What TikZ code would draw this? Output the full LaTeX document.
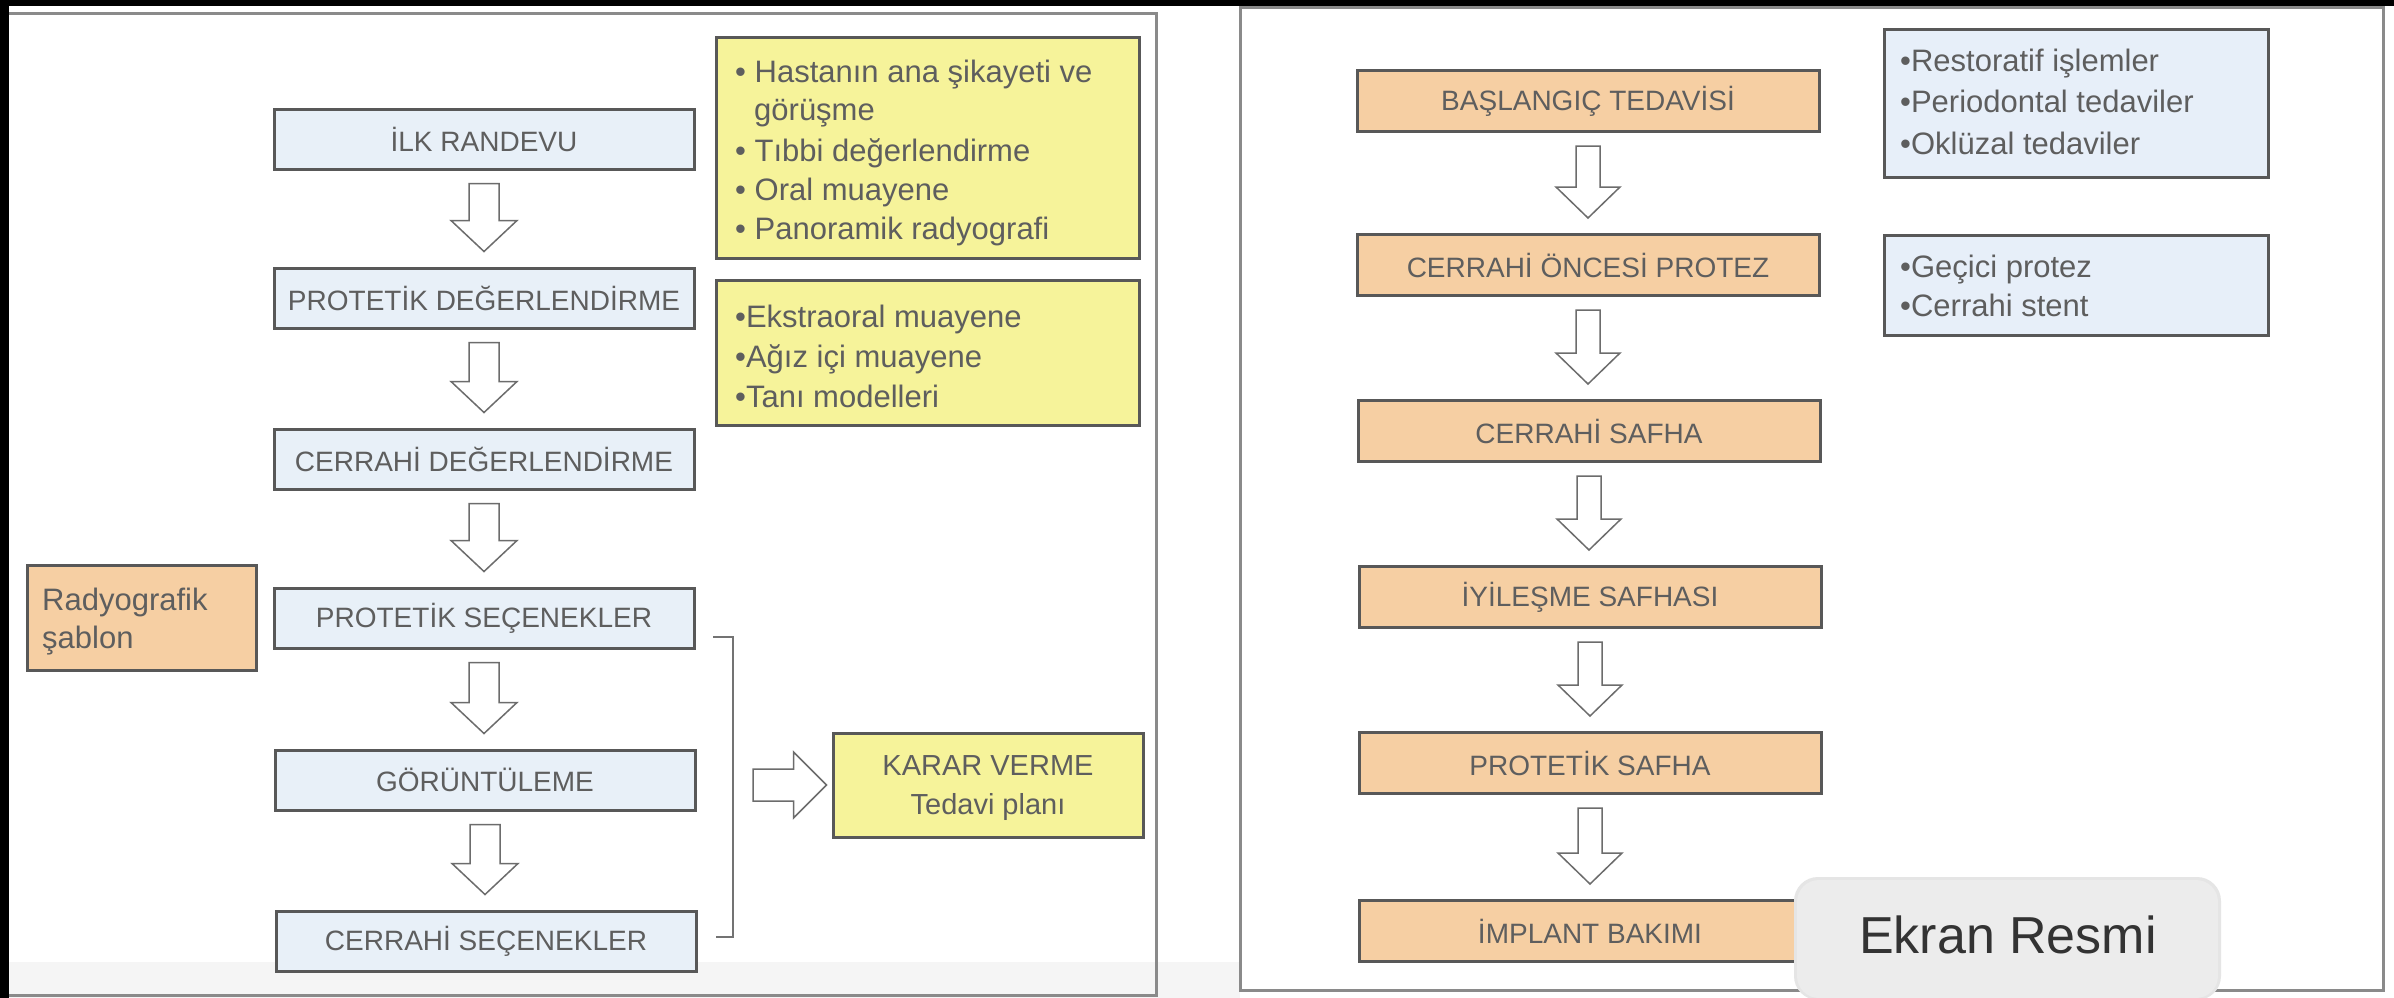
\documentclass[tikz,border=0pt]{standalone}
\usepackage{fontspec}
\setmainfont{Liberation Sans}
\usetikzlibrary{calc}
\definecolor{lblue}{HTML}{E8F0F8}
\definecolor{peach}{HTML}{F6CFA3}
\definecolor{lyellow}{HTML}{F6F39A}
\definecolor{iblue}{HTML}{E7EFF9}
\definecolor{bord}{HTML}{585858}
\definecolor{txt}{HTML}{5E5E5E}
\definecolor{panelgray}{HTML}{8A8A8A}
\definecolor{tipgray}{HTML}{ECECEC}
\newcommand{\vblockarrow}[4]{%
  \draw[blockarrow] let \p1=(#1.south), \p2=(#2.north) in
   (\x1-#3,\y1-13pt) -- (\x1+#3,\y1-13pt) -- (\x1+#3,\y2+46pt) -- (\x1+#4,\y2+46pt)
   -- (\x1,\y2+15pt) -- (\x1-#4,\y2+46pt) -- (\x1-#3,\y2+46pt) -- cycle;}
\begin{document}
\begin{tikzpicture}[x=1pt,y=-1pt,
  flowbox/.style={draw=bord, line width=3pt, inner sep=0pt, text=txt,
    font=\fontsize{28}{32}\selectfont},
  bluebox/.style={flowbox, fill=lblue, minimum width=420pt, minimum height=60pt},
  peachbox/.style={flowbox, fill=peach, minimum width=462pt, minimum height=61pt},
  notebox/.style={draw=bord, line width=3pt, inner sep=0pt},
  bul/.style={anchor=base west, inner sep=0pt, text=txt, font=\fontsize{31}{36}\selectfont},
  lbl/.style={anchor=base, inner sep=0pt, text=txt, font=\fontsize{29}{34}\selectfont},
  blockarrow/.style={draw=gray!85!black, line width=1.5pt, fill=white, line join=miter},
  panelline/.style={draw=panelgray, line width=3pt},
  bracketline/.style={draw=gray!90!black, line width=2pt},
]
\useasboundingbox (0,0) rectangle (2394,998);
\clip (0,0) rectangle (2394,998);
% background
\fill[white] (0,0) rectangle (2394,998);
\fill[black!4] (9,962) rectangle (1240,998);
\fill[black] (0,0) rectangle (2394,6);
\fill[black] (0,0) rectangle (9,998);
% panels
\draw[panelline] (9,14) -- (1156,14) -- (1156,995) -- (9,995);
\draw[panelline] (1240,8) rectangle (2383,990);

% ---------- left column ----------
\node[bluebox] (ilk)  at (484,139) {İLK RANDEVU};
\node[bluebox] (pdeg) at (484,298) {PROTETİK DEĞERLENDİRME};
\node[bluebox] (cdeg) at (484,459) {CERRAHİ DEĞERLENDİRME};
\node[bluebox] (psec) at (484,618) {PROTETİK SEÇENEKLER};
\node[bluebox] (goru) at (485,780) {GÖRÜNTÜLEME};
\node[bluebox] (csec) at (486,941) {CERRAHİ SEÇENEKLER};

\vblockarrow{ilk}{pdeg}{15pt}{33pt}
\vblockarrow{pdeg}{cdeg}{15pt}{33pt}
\vblockarrow{cdeg}{psec}{15pt}{33pt}
\vblockarrow{psec}{goru}{15pt}{33pt}
\vblockarrow{goru}{csec}{15pt}{33pt}

% yellow note 1
\node[notebox, fill=lyellow, minimum width=423pt, minimum height=220pt] (y1) at (927.5,148) {};
\node[bul] (y1a) at (735,82)  {•\ Hastanın ana şikayeti ve};
\node[bul] (y1b) at (754,121) {görüşme};
\node[bul] (y1c) at (735,161) {•\ Tıbbi değerlendirme};
\node[bul] (y1d) at (735,200) {•\ Oral muayene};
\node[bul] (y1e) at (735,239) {•\ Panoramik radyografi};
% yellow note 2
\node[notebox, fill=lyellow, minimum width=423pt, minimum height=145pt] (y2) at (927.5,352.5) {};
\node[bul] (y2a) at (735,327) {•Ekstraoral muayene};
\node[bul] (y2b) at (735,367) {•Ağız içi muayene};
\node[bul] (y2c) at (735,407) {•Tanı modelleri};

% radyografik sablon
\node[notebox, fill=peach, minimum width=229pt, minimum height=105pt] (rad) at (141.5,617.5) {};
\node[bul] (rada) at (42,610) {Radyografik};
\node[bul] (radb) at (42,648) {şablon};

% bracket and decision
\coordinate (brt) at (713,637);
\coordinate (brb) at (716,937);
\coordinate (brmid) at (733,786);
\draw[bracketline] (brt) -- (733,637) -- (733,937) -- (brb);
\node[notebox, fill=lyellow, minimum width=310pt, minimum height=104pt] (karar) at (988,785) {};
\node[lbl] (kara) at (988,775) {KARAR VERME};
\node[lbl] (karb) at (988,814) {Tedavi planı};
\draw[blockarrow] let \p1=(brmid), \p2=(karar.west) in
  (\x1+20pt,\y2+16pt) -- (\x2-38pt,\y2+16pt) -- (\x2-38pt,\y2+33pt) -- (\x2-5pt,\y2)
  -- (\x2-38pt,\y2-33pt) -- (\x2-38pt,\y2-16pt) -- (\x1+20pt,\y2-16pt) -- cycle;

% ---------- right column ----------
\node[peachbox] (bas)  at (1588,101) {BAŞLANGIÇ TEDAVİSİ};
\node[peachbox] (cop)  at (1588,265) {CERRAHİ ÖNCESİ PROTEZ};
\node[peachbox] (csaf) at (1589,431) {CERRAHİ SAFHA};
\node[peachbox] (iyi)  at (1590,597) {İYİLEŞME SAFHASI};
\node[peachbox] (psaf) at (1590,763) {PROTETİK SAFHA};
\node[peachbox] (imp)  at (1590,931) {İMPLANT BAKIMI};

\vblockarrow{bas}{cop}{12pt}{32pt}
\vblockarrow{cop}{csaf}{12pt}{32pt}
\vblockarrow{csaf}{iyi}{12pt}{32pt}
\vblockarrow{iyi}{psaf}{12pt}{32pt}
\vblockarrow{psaf}{imp}{12pt}{32pt}

% blue notes
\node[notebox, fill=iblue, minimum width=384pt, minimum height=147pt] (b1) at (2076,103.5) {};
\node[bul] (b1a) at (1900,72)  {•Restoratif işlemler};
\node[bul] (b1b) at (1900,113) {•Periodontal tedaviler};
\node[bul] (b1c) at (1900,154) {•Oklüzal tedaviler};
\node[notebox, fill=iblue, minimum width=384pt, minimum height=100pt] (b2) at (2076,285) {};
\node[bul] (b2a) at (1900,277) {•Geçici protez};
\node[bul] (b2b) at (1900,316) {•Cerrahi stent};

% ---------- tooltip ----------
\fill[black!10, rounded corners=24pt] (1794,877) rectangle (2221,1000);
\fill[tipgray, rounded corners=22pt] (1797,880) rectangle (2218,998);
\fill[tipgray] (1982,990) -- (2036,990) -- (2009,1012) -- cycle;
\node[anchor=base, inner sep=0pt, text=black!80, font=\fontsize{52}{60}\selectfont] (tip) at (2008,953) {Ekran Resmi};
\end{tikzpicture}
\end{document}
